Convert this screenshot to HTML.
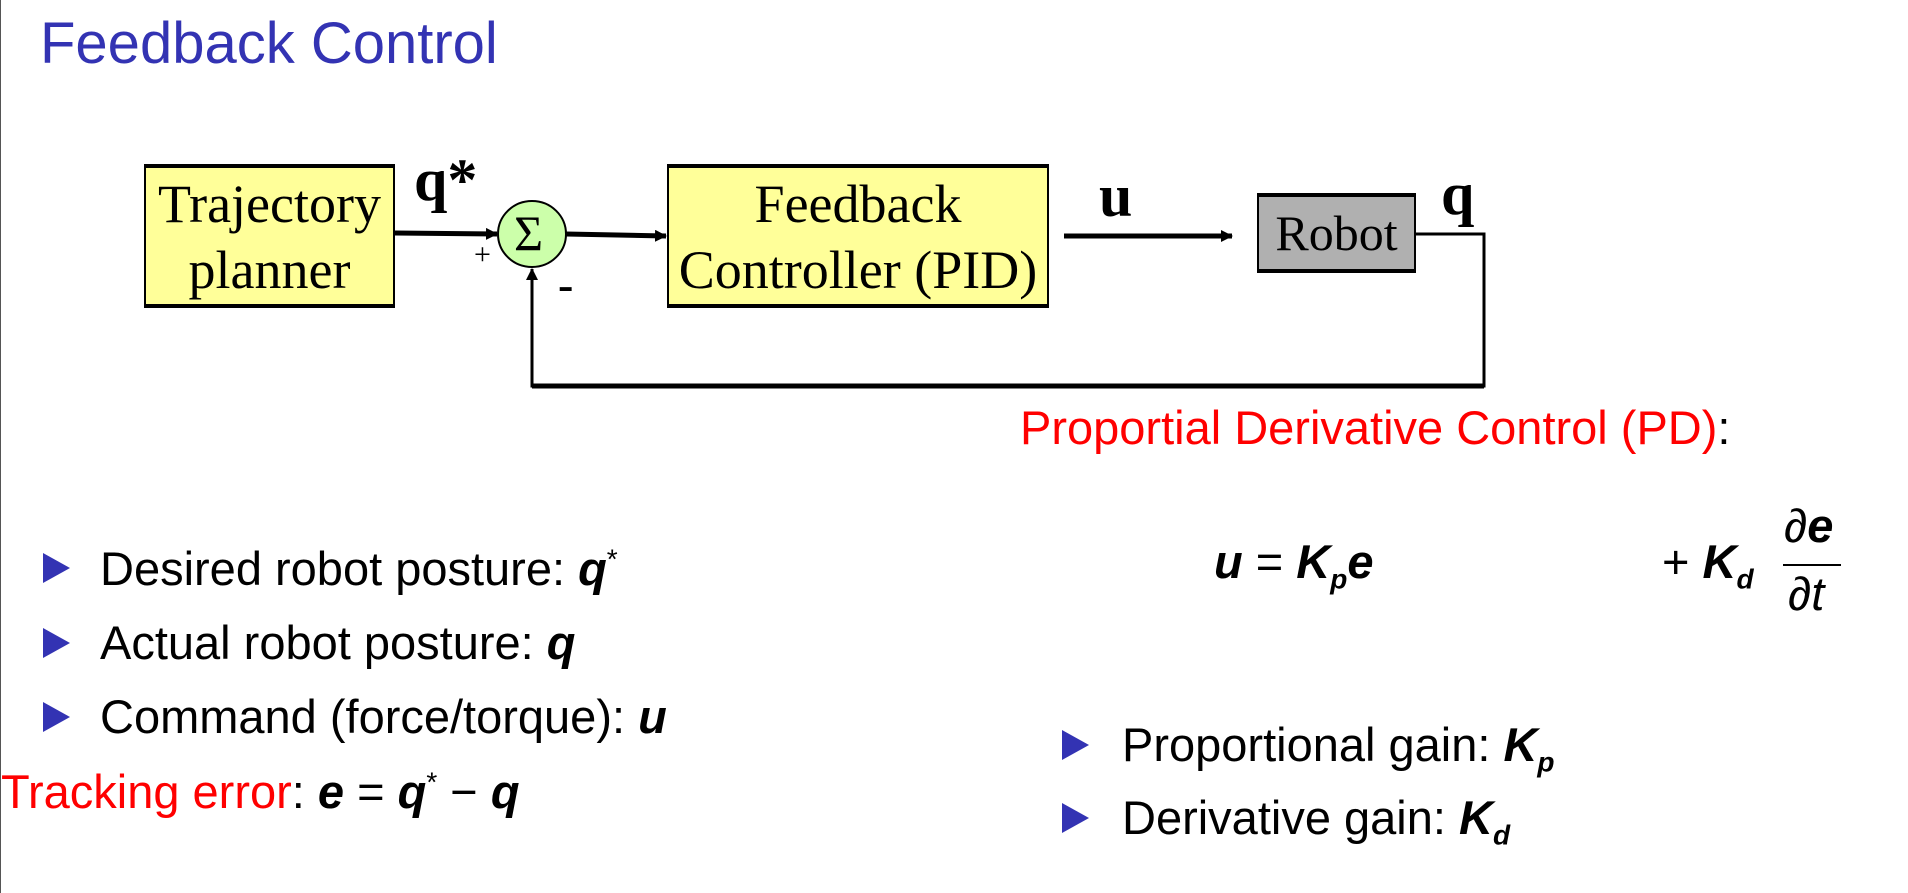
<!DOCTYPE html>
<html><head><meta charset="utf-8"><style>
body{margin:0;width:1908px;height:893px;background:#fff;position:relative;overflow:hidden;font-family:"Liberation Sans",sans-serif;}
.a{position:absolute;white-space:nowrap;}
.box{position:absolute;background:#ffff99;border:2px solid #000;border-top-width:4px;border-bottom-width:4px;box-sizing:border-box;font-family:"Liberation Serif",serif;font-size:54px;text-align:center;line-height:66px;}
.t{font-size:47px;color:#000;}
.tri{position:absolute;width:0;height:0;border-top:15px solid transparent;border-bottom:15px solid transparent;border-left:27px solid #3333b3;}
.m{font-style:italic;font-weight:bold;}
sub.m,sup{font-size:28px;}
</style></head><body>
<div class="a" style="left:0;top:0;width:1px;height:893px;background:#555"></div>
<div class="a" style="left:40px;top:10px;font-size:58px;color:#3333b3;">Feedback Control</div>

<div class="box" style="left:144px;top:164px;width:251px;height:144px;padding-top:3px;">Trajectory<br>planner</div>
<div class="box" style="left:667px;top:164px;width:382px;height:144px;padding-top:3px;">Feedback<br>Controller (PID)</div>
<div class="box" style="left:1257px;top:193px;width:159px;height:80px;background:#b0b0b0;line-height:72px;font-size:50px;">Robot</div>

<svg class="a" style="left:0;top:0" width="1908" height="893">
<defs><marker id="ar" markerWidth="12" markerHeight="12" refX="11" refY="6" orient="auto" markerUnits="userSpaceOnUse"><path d="M0,0 L12,6 L0,12 z" fill="#000"/></marker></defs>
<ellipse cx="532" cy="234" rx="34" ry="33" fill="#ccffaa" stroke="#000" stroke-width="2"/>
<line x1="395" y1="233" x2="497" y2="234" stroke="#000" stroke-width="5" marker-end="url(#ar)"/>
<line x1="566" y1="234" x2="666" y2="236" stroke="#000" stroke-width="5" marker-end="url(#ar)"/>
<line x1="1064" y1="236" x2="1232" y2="236" stroke="#000" stroke-width="5" marker-end="url(#ar)"/>
<polyline points="1416,234 1484,234 1484,386 532,386 532,269" fill="none" stroke="#000" stroke-width="3" marker-end="url(#ar)"/>
<line x1="532" y1="386" x2="1484" y2="386" stroke="#000" stroke-width="5"/>
</svg>
<div class="a" style="left:514px;top:204px;font-family:'Liberation Serif',serif;font-size:50px;">Σ</div>
<div class="a" style="left:414px;top:146px;font-family:'Liberation Serif',serif;font-size:60px;font-weight:bold;">q*</div>
<div class="a" style="left:1099px;top:162px;font-family:'Liberation Serif',serif;font-size:60px;font-weight:bold;">u</div>
<div class="a" style="left:1441px;top:160px;font-family:'Liberation Serif',serif;font-size:60px;font-weight:bold;">q</div>
<div class="a" style="left:474px;top:238px;font-family:'Liberation Serif',serif;font-size:30px;">+</div>
<div class="a" style="left:558px;top:258px;font-family:'Liberation Serif',serif;font-size:46px;font-weight:bold;">-</div>

<div class="a t" style="left:1020px;top:400px;color:#ff0000;">Proportial Derivative Control (PD)<span style="color:#000">:</span></div>

<div class="tri" style="left:43px;top:553px"></div>
<div class="a t" style="left:100px;top:541px;">Desired robot posture: <span class="m">q</span><sup>*</sup></div>
<div class="tri" style="left:43px;top:628px"></div>
<div class="a t" style="left:100px;top:615px;">Actual robot posture: <span class="m">q</span></div>
<div class="tri" style="left:43px;top:702px"></div>
<div class="a t" style="left:100px;top:689px;">Command (force/torque): <span class="m">u</span></div>
<div class="a t" style="left:1px;top:764px;"><span style="color:#ff0000">Tracking error</span>: <span class="m">e</span> = <span class="m">q</span><sup>*</sup> − <span class="m">q</span></div>

<div class="a t" style="left:1214px;top:534px;"><span class="m">u</span> = <span class="m">K</span><sub class="m">p</sub><span class="m">e</span></div>
<div class="a t" style="left:1662px;top:534px;">+ <span class="m">K</span><sub class="m">d</sub></div>
<div class="a t" style="left:1784px;top:498px;">∂<span class="m">e</span></div>
<div class="a" style="left:1783px;top:564px;width:58px;height:2px;background:#000"></div>
<div class="a t" style="left:1788px;top:566px;">∂<i>t</i></div>

<div class="tri" style="left:1062px;top:730px"></div>
<div class="a t" style="left:1122px;top:717px;">Proportional gain: <span class="m">K</span><sub class="m">p</sub></div>
<div class="tri" style="left:1062px;top:803px"></div>
<div class="a t" style="left:1122px;top:790px;">Derivative gain: <span class="m">K</span><sub class="m">d</sub></div>
</body></html>
